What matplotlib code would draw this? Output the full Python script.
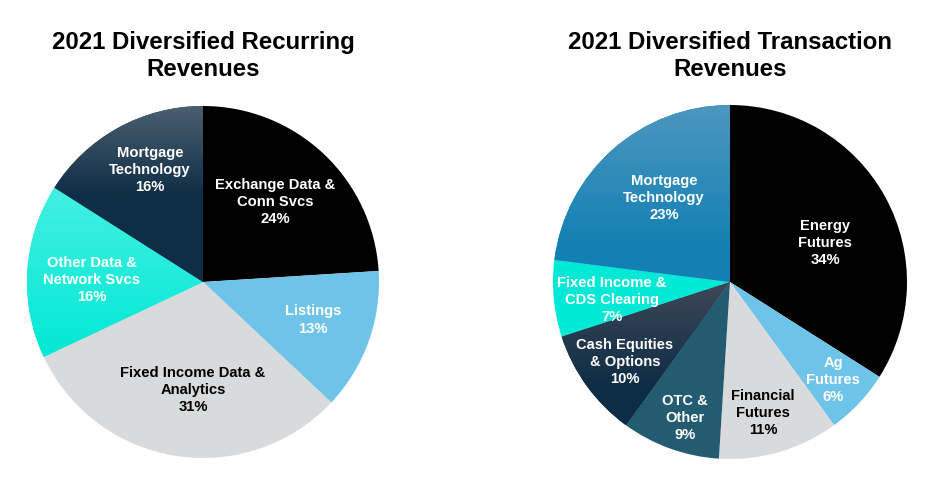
import numpy as np
import matplotlib
matplotlib.use('Agg')
import matplotlib.pyplot as plt
from matplotlib.colors import LinearSegmentedColormap

# data
rec_labels = ['Exchange Data &\nConn Svcs', 'Listings', 'Fixed Income Data &\nAnalytics',
              'Other Data &\nNetwork Svcs', 'Mortgage\nTechnology']
rec_values = [24, 13, 31, 16, 16]

trx_labels = ['Energy\nFutures', 'Ag\nFutures', 'Financial\nFutures', 'OTC &\nOther',
              'Cash Equities\n& Options', 'Fixed Income &\nCDS Clearing', 'Mortgage\nTechnology']
trx_values = [34, 6, 11, 9, 10, 7, 23]

titles = ['2021 Diversified Recurring\nRevenues', '2021 Diversified Transaction\nRevenues']

# styles: base color, optional vertical gradient (top color, bottom color, y top, y bottom)
rec_colors = ['#000000', '#6EC3E8', '#D9DADB', '#10EAD8', '#0F2E46']
rec_grad = [None, None, None, ('#48F0E4', '#00E8D4', 0.6, -0.45), ('#4B5F70', '#0F2E46', 1.0, 0.5)]
rec_text = ['white', 'white', 'black', 'white', 'white']
rec_pos = [(0.409, 0.455), (0.625, -0.216), (-0.057, -0.614), (-0.631, 0.011), (-0.301, 0.636)]

trx_colors = ['#000000', '#6EC3E8', '#D9DADB', '#235B70', '#0F2E46', '#00E8D6', '#1580B4']
trx_grad = [None, None, None, None, ('#3E4858', '#0D2C45', 0.0, -0.6), None,
            ('#4C97C0', '#1380B3', 1.0, 0.2)]
trx_text = ['white', 'white', 'black', 'white', 'white', 'white', 'white']
trx_pos = [(0.537, 0.220), (0.582, -0.554), (0.186, -0.740), (-0.254, -0.768),
           (-0.593, -0.452), (-0.667, -0.102), (-0.373, 0.475)]

fig = plt.figure(figsize=(9.47, 4.90), dpi=100)

title_font = ['Liberation Sans', 'Arial', 'DejaVu Sans']
label_font = ['Liberation Sans', 'Arial', 'DejaVu Sans']


def draw_pie(ax, values, labels, colors, grads, tcolors, pos, title, tx):
    wedges, _ = ax.pie(values, colors=colors, startangle=90, counterclock=False,
                       radius=1, wedgeprops=dict(linewidth=0))
    # vertical gradients clipped to the wedge shapes
    for w, g in zip(wedges, grads):
        if g is None:
            continue
        top, bot, yt, yb = g
        cmap = LinearSegmentedColormap.from_list('g', [bot, top])
        ys = np.linspace(-1, 1, 400)
        vals = np.clip((ys - yb) / (yt - yb), 0, 1)[:, None]
        im = ax.imshow(vals, cmap=cmap, vmin=0, vmax=1, extent=(-1, 1, -1, 1),
                       origin='lower', aspect='auto', zorder=w.get_zorder() + 0.1)
        im.set_clip_path(w)
    for v, lab, tc, (x, y) in zip(values, labels, tcolors, pos):
        ax.text(x, y, '%s\n%d%%' % (lab, v), ha='center', va='center', color=tc,
                fontsize=10.6, fontweight='bold', family=label_font, linespacing=1.3,
                zorder=5)
    ax.set_xlim(-1, 1)
    ax.set_ylim(-1, 1)
    ax.set_aspect('equal')
    ax.axis('off')
    fig.text(tx, 1 - 56 / 490, title, ha='center', va='center', fontsize=17.3,
             fontweight='bold', family=title_font, linespacing=1.22)


ax1 = fig.add_axes([(203 - 176) / 947, (490 - 282 - 176) / 490, 352 / 947, 352 / 490])
draw_pie(ax1, rec_values, rec_labels, rec_colors, rec_grad, rec_text, rec_pos, titles[0], 203 / 947)

ax2 = fig.add_axes([(730 - 177) / 947, (490 - 282 - 177) / 490, 354 / 947, 354 / 490])
draw_pie(ax2, trx_values, trx_labels, trx_colors, trx_grad, trx_text, trx_pos, titles[1], 730 / 947)

fig.savefig('out.png', dpi=100)
